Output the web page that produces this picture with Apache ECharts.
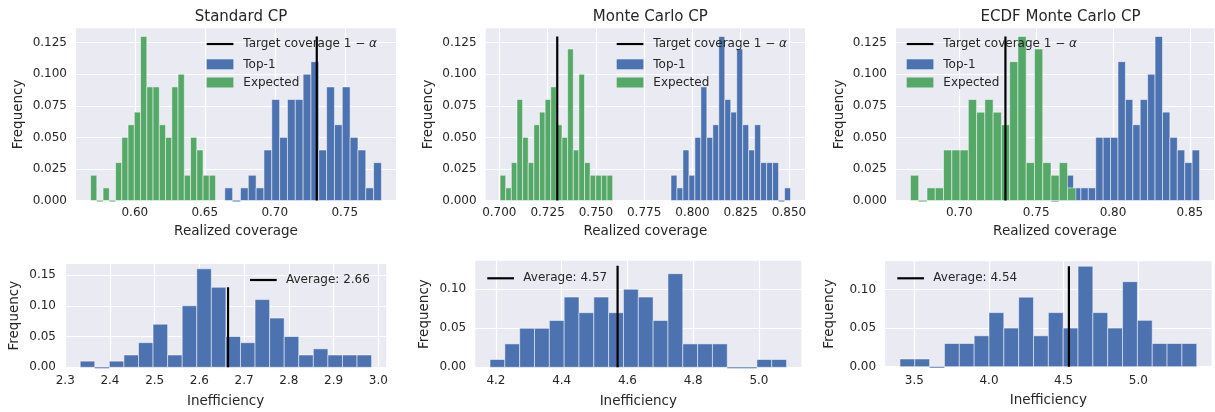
<!DOCTYPE html>
<html>
<head>
<meta charset="utf-8">
<script src="https://cdn.jsdelivr.net/npm/echarts@6/dist/echarts.min.js"></script>
<style>
  html, body { margin: 0; padding: 0; background: #fff; }
  #chart { width: 1215px; height: 412px; }
</style>
</head>
<body>
<div id="chart"></div>
<script>
// --- histogram frequencies (20 equal bins each) ---
const stdTop1      = [0.01, 0, 0.01, 0.02, 0.01, 0.04, 0.08, 0.05, 0.08, 0.08, 0.10, 0.11, 0.04, 0.09, 0.06, 0.09, 0.05, 0.04, 0.01, 0.03]
const stdExpected  = [0.02, 0, 0.01, 0, 0.03, 0.05, 0.06, 0.07, 0.13, 0.09, 0.09, 0.06, 0.05, 0.09, 0.10, 0.02, 0.05, 0.04, 0.02, 0.02]
const mcTop1       = [0.02, 0.01, 0.04, 0.02, 0.05, 0.09, 0.05, 0.06, 0.13, 0.08, 0.07, 0.12, 0.06, 0.04, 0.06, 0.03, 0.03, 0.03, 0, 0.01]
const mcExpected   = [0.02, 0.01, 0.03, 0.08, 0.05, 0.03, 0.06, 0.07, 0.08, 0.09, 0.06, 0.05, 0.12, 0.04, 0.10, 0.03, 0.02, 0.02, 0.02, 0.02]
const ecdfTop1     = [0, 0.01, 0.02, 0.01, 0.01, 0.01, 0.05, 0.05, 0.05, 0.11, 0.08, 0.06, 0.08, 0.10, 0.13, 0.07, 0.05, 0.04, 0.03, 0.04]
const ecdfExpected = [0.02, 0, 0.01, 0.01, 0.04, 0.04, 0.04, 0.08, 0.07, 0.08, 0.07, 0.06, 0.11, 0.13, 0.03, 0.12, 0.03, 0.02, 0.03, 0.01]
const stdIneff     = [0.01, 0, 0.01, 0.02, 0.04, 0.07, 0.02, 0.10, 0.16, 0.13, 0.05, 0.04, 0.11, 0.08, 0.05, 0.02, 0.03, 0.02, 0.02, 0.02]
const mcIneff      = [0.01, 0.03, 0.05, 0.05, 0.06, 0.09, 0.07, 0.09, 0.07, 0.10, 0.09, 0.06, 0.12, 0.03, 0.03, 0.03, 0, 0, 0.01, 0.01]
const ecdfIneff    = [0.01, 0.01, 0, 0.03, 0.03, 0.04, 0.07, 0.05, 0.09, 0.04, 0.07, 0.05, 0.13, 0.07, 0.05, 0.11, 0.06, 0.03, 0.03, 0.03]

// bin ranges [first edge, last edge]
const stdTop1Range      = [0.6643, 0.7762]
const stdExpectedRange  = [0.5684, 0.6577]
const mcTop1Range       = [0.7889, 0.8508]
const mcExpectedRange   = [0.7004, 0.7587]
const ecdfTop1Range     = [0.7598, 0.8563]
const ecdfExpectedRange = [0.6682, 0.7758]
const stdIneffRange     = [2.3335, 2.985]
const mcIneffRange      = [4.182, 5.084]
const ecdfIneffRange    = [3.404, 5.391]

// vertical reference lines
const targetCoverage = 0.73
const averages = [2.664, 4.57, 4.535]
const averageLabels = ['Average: 2.66', 'Average: 4.57', 'Average: 4.54']
const refLineTop = 0.13

// tick labels
const stdXTicks  = [0.60, 0.65, 0.70, 0.75]
const mcXTicks   = [0.700, 0.725, 0.750, 0.775, 0.800, 0.825, 0.850]
const ecdfXTicks = [0.70, 0.75, 0.80, 0.85]
const covYTicks  = [0, 0.025, 0.05, 0.075, 0.1, 0.125]
const stdIneffXTicks  = [2.3, 2.4, 2.5, 2.6, 2.7, 2.8, 2.9, 3.0]
const mcIneffXTicks   = [4.2, 4.4, 4.6, 4.8, 5.0]
const ecdfIneffXTicks = [3.5, 4.0, 4.5, 5.0]
const stdIneffYTicks  = [0, 0.05, 0.10, 0.15]
const ineffYTicks     = [0, 0.05, 0.10]

const titles = ['Standard CP', 'Monte Carlo CP', 'ECDF Monte Carlo CP']

const FONT = 'DejaVu Sans'
const TXT = '#262626'
const BLUE = '#4C72B0'
const GREEN = '#55A868'

const histData = (range, freqs) => {
  const w = (range[1] - range[0]) / freqs.length
  return freqs.map((f, i) => [range[0] + i * w, range[0] + (i + 1) * w, f])
}

const renderBin = (params, api) => {
  const lo = api.coord([api.value(0), 0])
  const hi = api.coord([api.value(1), api.value(2)])
  const color = api.visual('color')
  if (api.value(2) === 0) {
    // empty bin: only its edge shows, as a thin line on the baseline
    return {
      type: 'line',
      shape: { x1: lo[0], y1: lo[1] + 0.5, x2: hi[0], y2: lo[1] + 0.5 },
      style: { stroke: color, lineWidth: 1 }
    }
  }
  return {
    type: 'rect',
    shape: { x: lo[0], y: hi[1], width: hi[0] - lo[0], height: lo[1] - hi[1] },
    style: { fill: color, stroke: '#fff', lineWidth: 0.5 }
  }
}

// layout of the six panels (pixels)
const panels = [
  { grid: { left: 76, top: 28.2, width: 320, height: 172.3 }, x: [0.558, 0.7866], xTicks: stdXTicks, xDec: 2, yMax: 0.1365, yTicks: covYTicks, yDec: 3, xName: 'Realized coverage', yGap: 51, xGap: 24, xMargin: 6 },
  { grid: { left: 485.6, top: 28.2, width: 319.4, height: 172.3 }, x: [0.6929, 0.8583], xTicks: mcXTicks, xDec: 3, yMax: 0.1365, yTicks: covYTicks, yDec: 3, xName: 'Realized coverage', yGap: 50, xGap: 24, xMargin: 6 },
  { grid: { left: 896, top: 28.2, width: 318, height: 172.3 }, x: [0.6588, 0.8657], xTicks: ecdfXTicks, xDec: 2, yMax: 0.1365, yTicks: covYTicks, yDec: 3, xName: 'Realized coverage', yGap: 50, xGap: 24, xMargin: 6 },
  { grid: { left: 65, top: 263.9, width: 321.2, height: 103.4 }, x: [2.2995, 3.0176], xTicks: stdIneffXTicks, xDec: 1, yMax: 0.168, yTicks: stdIneffYTicks, yDec: 2, xName: 'Inefficiency', yGap: 44, xGap: 27, xMargin: 8 },
  { grid: { left: 475.2, top: 260.8, width: 326.2, height: 106.5 }, x: [4.1369, 5.1291], xTicks: mcIneffXTicks, xDec: 1, yMax: 0.1365, yTicks: ineffYTicks, yDec: 2, xName: 'Inefficiency', yGap: 44, xGap: 27, xMargin: 8 },
  { grid: { left: 885.1, top: 261.2, width: 326.5, height: 105.5 }, x: [3.3046, 5.4904], xTicks: ecdfIneffXTicks, xDec: 1, yMax: 0.1365, yTicks: ineffYTicks, yDec: 2, xName: 'Inefficiency', yGap: 49, xGap: 27, xMargin: 8 }
]

const grid = panels.map(p => ({ ...p.grid, show: true, backgroundColor: '#EAEAF2', borderWidth: 0 }))

const labelStyle = { fontFamily: FONT, fontSize: 12, color: TXT }
const nameStyle = { fontFamily: FONT, fontSize: 13.5, color: TXT }
const gridLine = { show: true, lineStyle: { color: '#fff', width: 1.2 } }

const xAxis = panels.map((p, i) => ({
  type: 'value', gridIndex: i, min: p.x[0], max: p.x[1],
  name: p.xName, nameLocation: 'middle', nameGap: p.xGap, nameTextStyle: nameStyle,
  axisLine: { show: false },
  axisTick: { show: false, customValues: p.xTicks },
  axisLabel: { ...labelStyle, margin: p.xMargin, customValues: p.xTicks, formatter: v => v.toFixed(p.xDec) },
  splitLine: gridLine
}))

const yAxis = panels.map((p, i) => ({
  type: 'value', gridIndex: i, min: 0, max: p.yMax,
  name: 'Frequency', nameLocation: 'middle', nameGap: p.yGap, nameTextStyle: nameStyle,
  axisLine: { show: false },
  axisTick: { show: false, customValues: p.yTicks },
  axisLabel: { ...labelStyle, margin: 9, customValues: p.yTicks, formatter: v => v.toFixed(p.yDec) },
  splitLine: gridLine
}))

const histSeries = (name, idx, range, freqs, color) => ({
  type: 'custom', name, xAxisIndex: idx, yAxisIndex: idx,
  renderItem: renderBin, encode: { x: [0, 1], y: 2 },
  itemStyle: { color }, clip: false, silent: true, z: 2,
  data: histData(range, freqs)
})

const refLine = (idx, x) => ({
  type: 'line', xAxisIndex: idx, yAxisIndex: idx, symbol: 'none', silent: true, z: 5,
  lineStyle: { color: '#000', width: 2.2 },
  data: [[x, 0], [x, refLineTop]]
})

const series = [
  histSeries('Top-1', 0, stdTop1Range, stdTop1, BLUE),
  histSeries('Expected', 0, stdExpectedRange, stdExpected, GREEN),
  histSeries('Top-1', 1, mcTop1Range, mcTop1, BLUE),
  histSeries('Expected', 1, mcExpectedRange, mcExpected, GREEN),
  histSeries('Top-1', 2, ecdfTop1Range, ecdfTop1, BLUE),
  histSeries('Expected', 2, ecdfExpectedRange, ecdfExpected, GREEN),
  histSeries('Inefficiency', 3, stdIneffRange, stdIneff, BLUE),
  histSeries('Inefficiency', 4, mcIneffRange, mcIneff, BLUE),
  histSeries('Inefficiency', 5, ecdfIneffRange, ecdfIneff, BLUE),
  refLine(0, targetCoverage), refLine(1, targetCoverage), refLine(2, targetCoverage),
  refLine(3, averages[0]), refLine(4, averages[1]), refLine(5, averages[2])
]

// legends (no frame, like the seaborn style), drawn above the bars
const legendText = (x, y, text, rich) => ({
  type: 'text', x, y, z: 100,
  style: { text, rich, fill: TXT, font: `12px "${FONT}"`, verticalAlign: 'middle' }
})
const handleLine = (x, y) => ({ type: 'line', z: 100, shape: { x1: x, y1: y, x2: x + 26.7, y2: y }, style: { stroke: '#000', lineWidth: 2.2 } })
const patch = (x, y, color) => ({ type: 'rect', z: 100, shape: { x, y: y - 5, width: 26.7, height: 10 }, style: { fill: color } })

const coverageLegend = x => [
  handleLine(x, 44),
  legendText(x + 36.6, 44, 'Target coverage 1 \u2212 {a|\u03b1}', { a: { fontStyle: 'italic', fontFamily: FONT, fontSize: 12, fill: TXT } }),
  patch(x, 64.3, BLUE),
  legendText(x + 36.6, 64.5, 'Top-1'),
  patch(x, 82.5, GREEN),
  legendText(x + 36.6, 82.5, 'Expected')
]
const averageLegend = (x, y, label) => [handleLine(x, y), legendText(x + 36, y, label)]

const graphic = [
  ...coverageLegend(206.7), ...coverageLegend(616.7), ...coverageLegend(906.7),
  ...averageLegend(250, 280, averageLabels[0]),
  ...averageLegend(487.3, 278.3, averageLabels[1]),
  ...averageLegend(897.3, 278.3, averageLabels[2])
]

const titleCenters = [236, 645.3, 1055.5]
const title = titles.map((t, i) => ({
  text: t, left: titleCenters[i], top: 5, textAlign: 'center',
  textStyle: { fontFamily: FONT, fontSize: 15, fontWeight: 'normal', color: TXT }
}))

const chart = echarts.init(document.getElementById('chart'), null, { renderer: 'canvas' })
chart.setOption({
  animation: false,
  backgroundColor: '#fff',
  title, grid, xAxis, yAxis, series, graphic
})
</script>
</body>
</html>
